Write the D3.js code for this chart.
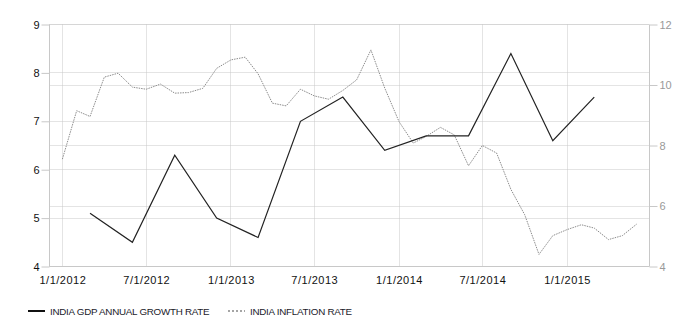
<!DOCTYPE html>
<html>
<head>
<meta charset="utf-8">
<script src="https://cdn.jsdelivr.net/npm/d3@7"></script>
<style>
  html, body { margin: 0; padding: 0; background: #fff; }
  svg { display: block; font-family: "Liberation Sans", Arial, sans-serif; }
</style>
</head>
<body>
<svg id="chart" width="684" height="329"></svg>
<script>
// Quarterly GDP growth (left axis, %)
const gdpDates = ["2012-03-01","2012-06-01","2012-09-01","2012-12-01",
                  "2013-03-01","2013-06-01","2013-09-01","2013-12-01",
                  "2014-03-01","2014-06-01","2014-09-01","2014-12-01",
                  "2015-03-01"];
const gdpValues = [5.1, 4.5, 6.3, 5.0, 4.6, 7.0, 7.5, 6.4, 6.7, 6.7, 8.4, 6.6, 7.5];

// Monthly CPI inflation (right axis, %), Jan 2012 – Jun 2015
const inflationStart = "2012-01-01";
const inflationValues = [
  7.55, 9.15, 8.96, 10.26, 10.39, 9.93, 9.86, 10.03, 9.73, 9.75, 9.89, 10.55,
  10.83, 10.92, 10.37, 9.40, 9.31, 9.86, 9.64, 9.53, 9.82, 10.17, 11.16, 9.90,
  8.79, 8.08, 8.30, 8.60, 8.35, 7.33, 8.00, 7.75, 6.55, 5.71, 4.40, 5.02,
  5.22, 5.38, 5.27, 4.89, 5.02, 5.40
];

const xTickDates = ["2012-01-01","2012-07-01","2013-01-01","2013-07-01",
                    "2014-01-01","2014-07-01","2015-01-01"];
const leftTicks = [4, 5, 6, 7, 8, 9];
const rightTicks = [4, 6, 8, 10, 12];

const seriesNames = ["INDIA GDP ANNUAL GROWTH RATE", "INDIA INFLATION RATE"];

const parse = d3.timeParse("%Y-%m-%d");
const fmt = d3.timeFormat("%-m/%-d/%Y");

const gdp = gdpDates.map((d, i) => ({ date: parse(d), value: gdpValues[i] }));
const inflation = inflationValues.map((v, i) => ({
  date: d3.timeMonth.offset(parse(inflationStart), i), value: v
}));

const svg = d3.select("#chart");
const plotLeft = 49.5, plotRight = 649.5, plotTop = 24.5, plotBottom = 266.5;

// Time domain padded four weeks either side of the data
const allDates = inflation.map(d => d.date).concat(gdp.map(d => d.date));
const pad = 28;
const x = d3.scaleTime()
  .domain([d3.timeDay.offset(d3.min(allDates), -pad), d3.timeDay.offset(d3.max(allDates), pad)])
  .range([plotLeft, plotRight]);
const yL = d3.scaleLinear().domain([4, 9]).range([plotBottom, plotTop]);
const yR = d3.scaleLinear().domain([4, 12]).range([plotBottom, plotTop]);

const snap = v => Math.round(v - 0.5) + 0.5;
const gridColor = "#c9c9c9";
const grid = svg.append("g");

// Horizontal gridlines for both axes
leftTicks.map(t => yL(t)).concat(rightTicks.map(t => yR(t))).forEach(py => {
  grid.append("line").attr("x1", plotLeft).attr("x2", plotRight)
    .attr("y1", snap(py)).attr("y2", snap(py))
    .attr("stroke", gridColor).attr("stroke-dasharray", "1,1");
});
// Vertical gridlines at the date ticks
xTickDates.forEach(d => {
  const px = snap(x(parse(d)));
  grid.append("line").attr("x1", px).attr("x2", px)
    .attr("y1", plotTop).attr("y2", plotBottom)
    .attr("stroke", gridColor).attr("stroke-dasharray", "1,1");
});

// Axes
const axisColor = "#c8c8c8";
const fontFam = "Liberation Sans, Arial, sans-serif";
const leftAxis = svg.append("g").attr("transform", `translate(${plotLeft},0)`)
  .call(d3.axisLeft(yL).tickValues(leftTicks).tickFormat(d3.format("d")).tickSize(8).tickPadding(2));
leftAxis.selectAll("path, line").attr("stroke", axisColor);
leftAxis.select(".domain").attr("d", `M0,${plotTop}V${plotBottom}`);
leftAxis.selectAll("text").attr("fill", "#111").attr("font-size", 11).attr("font-family", fontFam);

const rightAxis = svg.append("g").attr("transform", `translate(${plotRight},0)`)
  .call(d3.axisRight(yR).tickValues(rightTicks).tickFormat(d3.format("d")).tickSize(8).tickPadding(2));
rightAxis.selectAll("path, line").attr("stroke", axisColor);
rightAxis.select(".domain").attr("d", `M0,${plotTop}V${plotBottom}`);
rightAxis.selectAll("text").attr("fill", "#999").attr("font-size", 11).attr("font-family", fontFam);

const bottomAxis = svg.append("g").attr("transform", `translate(0,${plotBottom})`)
  .call(d3.axisBottom(x).tickValues(xTickDates.map(parse)).tickFormat(fmt).tickSize(0).tickPadding(10));
bottomAxis.select(".domain").attr("stroke", axisColor).attr("d", `M${plotLeft},0H${plotRight}`);
bottomAxis.selectAll("text").attr("fill", "#111").attr("font-size", 11)
  .attr("letter-spacing", "0.5px").attr("font-family", fontFam);

// Series lines
const lineL = d3.line().x(d => x(d.date)).y(d => yL(d.value));
const lineR = d3.line().x(d => x(d.date)).y(d => yR(d.value));

svg.append("path").datum(inflation).attr("d", lineR)
  .attr("fill", "none").attr("stroke", "#8c8c8c").attr("stroke-width", 1)
  .attr("stroke-dasharray", "1.5,1");

svg.append("path").datum(gdp).attr("d", lineL)
  .attr("fill", "none").attr("stroke", "#222").attr("stroke-width", 1.2);

// Legend
const legend = svg.append("g").attr("font-family", fontFam);
legend.append("line").attr("x1", 28).attr("x2", 45).attr("y1", 311).attr("y2", 311)
  .attr("stroke", "#111").attr("stroke-width", 2);
legend.append("text").attr("x", 50).attr("y", 315).text(seriesNames[0])
  .attr("font-size", 9.8).attr("letter-spacing", "-0.25px").attr("fill", "#1a1a2a");
legend.append("line").attr("x1", 228).attr("x2", 245).attr("y1", 311).attr("y2", 311)
  .attr("stroke", "#888").attr("stroke-width", 1.5).attr("stroke-dasharray", "2,2");
legend.append("text").attr("x", 250).attr("y", 315).text(seriesNames[1])
  .attr("font-size", 9.8).attr("letter-spacing", "-0.25px").attr("fill", "#1a1a2a");
</script>
</body>
</html>
